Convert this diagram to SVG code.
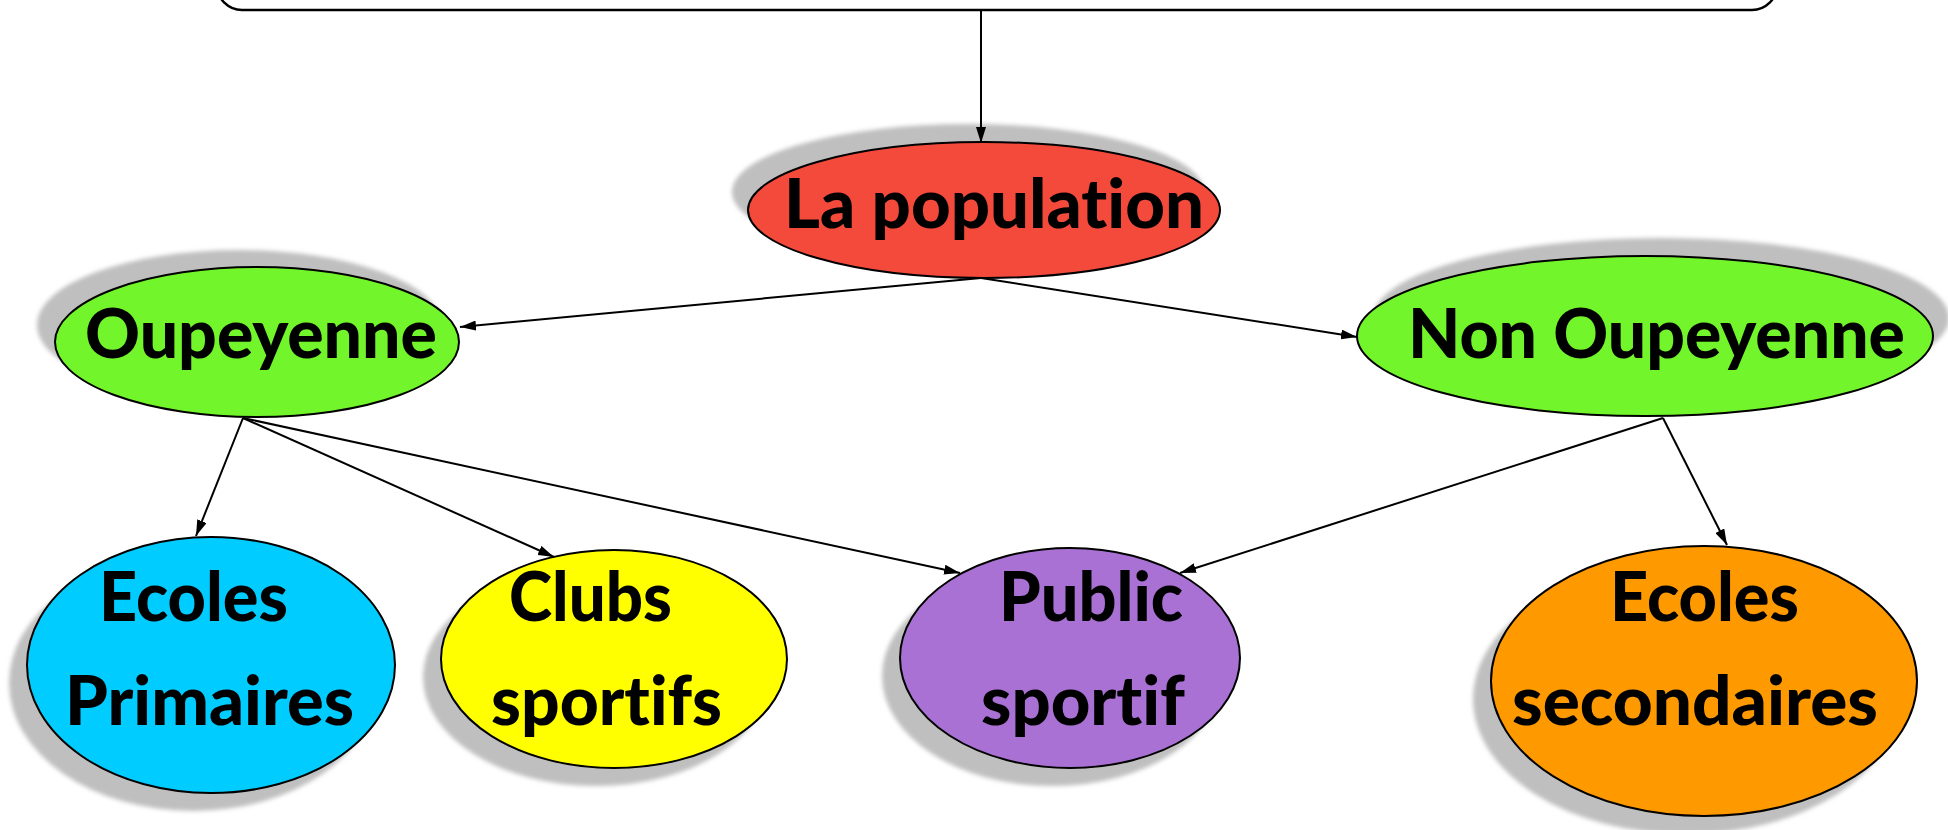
<svg xmlns="http://www.w3.org/2000/svg" width="1948" height="830" viewBox="0 0 1948 830">
<defs>
<style>
.node{stroke:#000;stroke-width:2}
.sh{fill:#BFBFBF;filter:url(#blur)}
.lbl{font-family:Lato,"Open Sans","Liberation Sans",sans-serif;font-weight:900;font-size:69px;fill:#000;font-variant-ligatures:none;font-feature-settings:"liga" 0,"clig" 0}
</style>
<filter id="blur" x="-10%" y="-10%" width="120%" height="120%"><feGaussianBlur stdDeviation="2"/></filter>
<marker id="arr2" viewBox="0 0 16 10" refX="16" refY="5" markerWidth="16" markerHeight="10" markerUnits="userSpaceOnUse" orient="auto">
<path d="M0,0 L16,5 L0,10 z" fill="#000"/>
</marker>
</defs>
<rect width="1948" height="830" fill="#fff"/>
<g id="top-box">
<rect x="217" y="-60" width="1560" height="70" rx="25" ry="25" fill="#fff" stroke="#000" stroke-width="2.5"/>
</g>
<g id="la-population">
<ellipse class="sh" cx="968" cy="192" rx="236" ry="68"/>
<ellipse class="node" cx="984" cy="210" rx="236" ry="68" fill="#F44A3C"/>
<text class="lbl" x="784" y="228" textLength="420" lengthAdjust="spacingAndGlyphs">La population</text>
</g>
<g id="oupeyenne">
<ellipse class="sh" cx="239" cy="325" rx="202" ry="75"/>
<ellipse class="node" cx="257" cy="342" rx="202" ry="75" fill="#72F52A"/>
<text class="lbl" x="85" y="358" textLength="352" lengthAdjust="spacingAndGlyphs">Oupeyenne</text>
</g>
<g id="non-oupeyenne">
<ellipse class="sh" cx="1661" cy="318" rx="288" ry="80"/>
<ellipse class="node" cx="1645" cy="336" rx="288" ry="80" fill="#72F52A"/>
<text class="lbl" x="1408" y="358" textLength="497" lengthAdjust="spacingAndGlyphs">Non Oupeyenne</text>
</g>
<g id="ecoles-primaires">
<ellipse class="sh" cx="193" cy="683" rx="184" ry="128"/>
<ellipse class="node" cx="211" cy="665" rx="184" ry="128" fill="#00CCFF"/>
<text class="lbl" x="99" y="621" textLength="189" lengthAdjust="spacingAndGlyphs">Ecoles</text>
<text class="lbl" x="65" y="725" textLength="289" lengthAdjust="spacingAndGlyphs">Primaires</text>
</g>
<g id="clubs-sportifs">
<ellipse class="sh" cx="596" cy="677" rx="173" ry="109"/>
<ellipse class="node" cx="614" cy="659" rx="173" ry="109" fill="#FFFF00"/>
<text class="lbl" x="509" y="621" textLength="163" lengthAdjust="spacingAndGlyphs">Clubs</text>
<text class="lbl" x="491" y="725" textLength="231" lengthAdjust="spacingAndGlyphs">sportifs</text>
</g>
<g id="public-sportif">
<ellipse class="sh" cx="1052" cy="676" rx="170" ry="110"/>
<ellipse class="node" cx="1070" cy="658" rx="170" ry="110" fill="#A971D3"/>
<text class="lbl" x="999" y="621" textLength="184" lengthAdjust="spacingAndGlyphs">Public</text>
<text class="lbl" x="981" y="725" textLength="204" lengthAdjust="spacingAndGlyphs">sportif</text>
</g>
<g id="ecoles-secondaires">
<ellipse class="sh" cx="1686" cy="699" rx="213" ry="135"/>
<ellipse class="node" cx="1704" cy="681" rx="213" ry="135" fill="#FF9900"/>
<text class="lbl" x="1610" y="621" textLength="189" lengthAdjust="spacingAndGlyphs">Ecoles</text>
<text class="lbl" x="1512" y="725" textLength="366" lengthAdjust="spacingAndGlyphs">secondaires</text>
</g>
<g id="connectors" stroke="#000" stroke-width="2" fill="none">
<line x1="981" y1="10" x2="981" y2="143" marker-end="url(#arr2)"/>
<line x1="981" y1="278" x2="460" y2="327" marker-end="url(#arr2)"/>
<line x1="981" y1="278" x2="1357" y2="337" marker-end="url(#arr2)"/>
<line x1="243" y1="418" x2="196" y2="536" marker-end="url(#arr2)"/>
<line x1="243" y1="418" x2="554" y2="557" marker-end="url(#arr2)"/>
<line x1="243" y1="418" x2="960" y2="573" marker-end="url(#arr2)"/>
<line x1="1663" y1="418" x2="1180" y2="573" marker-end="url(#arr2)"/>
<line x1="1663" y1="418" x2="1727" y2="545" marker-end="url(#arr2)"/>
</g>
</svg>
